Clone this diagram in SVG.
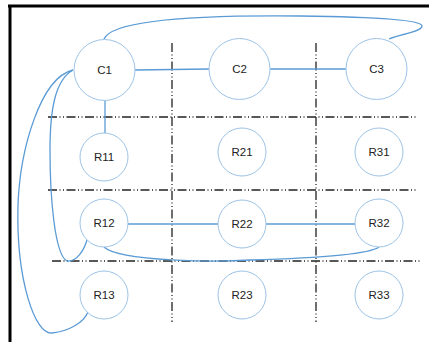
<svg xmlns="http://www.w3.org/2000/svg" width="429" height="342" viewBox="0 0 429 342">
<style>
.grid{stroke:#222;stroke-width:1.3;fill:none;stroke-dasharray:9 2.5 1 2.5 1 2.5}
.n circle{fill:#fff;stroke:#9dc3e6;stroke-width:1}
.n text{font-family:"Liberation Sans",Arial,sans-serif;font-size:11.5px;fill:#222;text-anchor:middle;dominant-baseline:central}
#connectors path,#connectors line{stroke:#5b9bd5;stroke-width:1.3;fill:none}
</style>
<rect x="0" y="0" width="429" height="342" fill="#fff"/>
<line x1="8" y1="6" x2="429" y2="6" stroke="#000" stroke-width="3"/>
<line x1="10" y1="5" x2="10" y2="342" stroke="#000" stroke-width="3"/>
<g id="grid">
<line class="grid" x1="172" y1="43" x2="172" y2="322"/>
<line class="grid" x1="316" y1="43" x2="316" y2="322"/>
<line class="grid" x1="48" y1="117" x2="418" y2="117"/>
<line class="grid" x1="48" y1="190" x2="418" y2="190"/>
<line class="grid" x1="52" y1="261" x2="420" y2="261"/>
</g>
<g id="connectors">
<line x1="135" y1="70" x2="209" y2="69"/>
<line x1="270" y1="69" x2="346" y2="69"/>
<line x1="105" y1="100" x2="105" y2="133"/>
<line x1="128" y1="224" x2="218" y2="224"/>
<line x1="266" y1="224" x2="355" y2="224"/>
<path d="M104,39 C112,20 200,15 300,16 C380,17 422,20 422,26 C422,32 400,34 389,39"/>
<path d="M73,70 C40,78 20,150 18,205 C16,280 35,335 52,333 C70,331 84,322 88,312"/>
<path d="M73,70 C55,80 50,110 50,150 C50,200 55,255 67,261 C77,262 84,250 87,240"/>
<path d="M104,247 C120,262 220,262 250,260 C320,258 370,254 379,247"/>
</g>
<g id="C1" class="n"><circle cx="104.5" cy="70" r="30.5"/><text x="104.5" y="70">C1</text></g>
<g id="C2" class="n"><circle cx="239.5" cy="69" r="30.5"/><text x="239.5" y="69">C2</text></g>
<g id="C3" class="n"><circle cx="376.5" cy="69" r="30.5"/><text x="376.5" y="69">C3</text></g>
<g id="R11" class="n"><circle cx="104" cy="157" r="24"/><text x="104" y="157">R11</text></g>
<g id="R21" class="n"><circle cx="242" cy="152" r="24"/><text x="242" y="152">R21</text></g>
<g id="R31" class="n"><circle cx="379" cy="152" r="24"/><text x="379" y="152">R31</text></g>
<g id="R12" class="n"><circle cx="104" cy="223" r="24"/><text x="104" y="223">R12</text></g>
<g id="R22" class="n"><circle cx="242" cy="224" r="24"/><text x="242" y="224">R22</text></g>
<g id="R32" class="n"><circle cx="379" cy="223" r="24"/><text x="379" y="223">R32</text></g>
<g id="R13" class="n"><circle cx="104" cy="295" r="24"/><text x="104" y="295">R13</text></g>
<g id="R23" class="n"><circle cx="242" cy="295" r="24"/><text x="242" y="295">R23</text></g>
<g id="R33" class="n"><circle cx="379" cy="295" r="24"/><text x="379" y="295">R33</text></g>
</svg>
